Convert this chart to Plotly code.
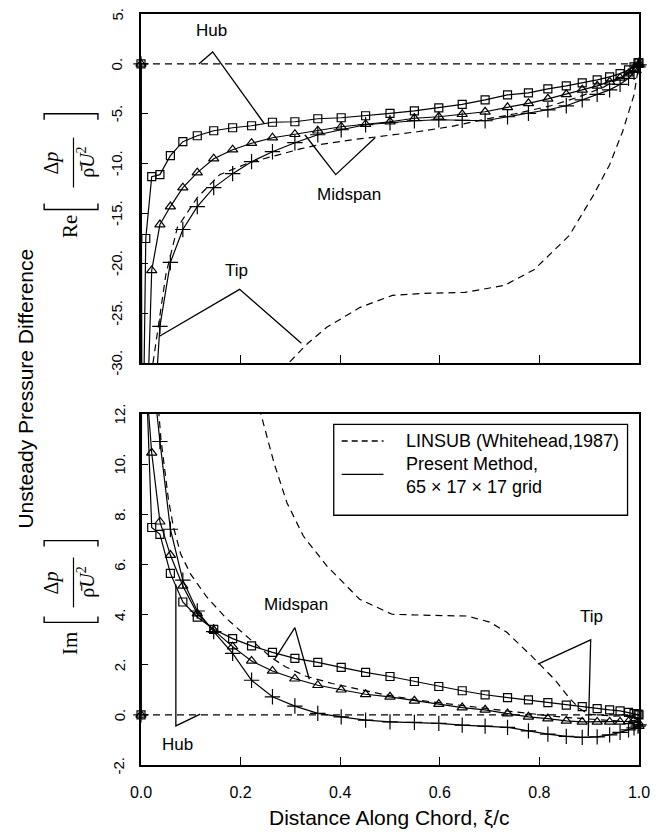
import plotly.graph_objects as go

# ---------------- data ----------------
# chordwise grid of the present method
xi = [0.0, 0.0024, 0.0096, 0.0215, 0.038, 0.059, 0.084, 0.113, 0.146, 0.184,
      0.222, 0.264, 0.309, 0.355, 0.402, 0.451, 0.500, 0.549, 0.598, 0.645,
      0.691, 0.736, 0.778, 0.817, 0.854, 0.886, 0.916, 0.941, 0.962, 0.979,
      0.990, 0.998, 1.0]

# Real part, present method
re_hub = [0, -45, -17.5, -11.3, -11.1, -9.2, -7.8, -7.2, -6.7, -6.4,
          -6.2, -5.85, -5.8, -5.5, -5.4, -5.2, -4.95, -4.7, -4.4, -4.05,
          -3.6, -3.1, -2.9, -2.5, -2.2, -1.9, -1.6, -1.3, -0.97, -0.6,
          -0.3, 0.1, 0.1]
re_mid = [0, -80, -40, -20.7, -16.1, -14.3, -12.4, -10.9, -9.5, -8.6,
          -7.95, -7.4, -7.05, -6.7, -6.3, -6.05, -5.8, -5.45, -5.3, -5.05,
          -4.8, -4.35, -3.95, -3.5, -3.05, -2.6, -2.2, -1.8, -1.4, -0.97,
          -0.53, -0.13, 0.0]
re_tip = [0, -100, -60, -39, -26.3, -19.9, -16.6, -14.3, -12.4, -11.0,
          -9.8, -8.8, -7.9, -7.1, -6.6, -6.1, -5.9, -5.7, -5.6, -5.65,
          -5.7, -5.3, -4.95, -4.6, -4.2, -3.6, -3.05, -2.6, -2.05, -1.45,
          -0.85, -0.3, -0.1]

# Imaginary part, present method
im_hub = [0, 40, 14, 7.47, 7.2, 5.64, 4.5, 3.9, 3.41, 3.04,
          2.75, 2.49, 2.25, 2.09, 1.89, 1.69, 1.53, 1.33, 1.13, 0.96,
          0.8, 0.69, 0.6, 0.49, 0.39, 0.33, 0.25, 0.2, 0.16, 0.1,
          0.05, 0.03, 0.0]
im_mid = [0, 30, 13.5, 10.45, 7.7, 6.37, 5.14, 4.04, 3.38, 2.72,
          2.15, 1.75, 1.44, 1.18, 1.0, 0.82, 0.72, 0.56, 0.43, 0.29,
          0.2, 0.05, -0.08, -0.15, -0.24, -0.28, -0.28, -0.28, -0.28, -0.26,
          -0.22, -0.3, -0.45]
im_tip = [0, 60, 30, 14, 10.9, 7.4, 5.37, 4.14, 3.32, 2.45,
          1.38, 0.72, 0.35, 0.06, -0.08, -0.21, -0.28, -0.3, -0.34, -0.41,
          -0.45, -0.5, -0.64, -0.77, -0.86, -0.9, -0.88, -0.8, -0.7, -0.6,
          -0.52, -0.45, -0.4]

# LINSUB (Whitehead, 1987) -- real part
ls_re_hub_x = [0.0, 1.0]
ls_re_hub_y = [0.0, 0.0]
ls_re_mid_x = [0.018, 0.024, 0.05, 0.073, 0.113, 0.158, 0.217, 0.276, 0.322, 0.358,
               0.424, 0.476, 0.555, 0.62, 0.686, 0.751, 0.823, 0.88, 0.93, 0.97, 1.0]
ls_re_mid_y = [-36, -30, -21.1, -16.4, -13.4, -11.1, -9.9, -9.1, -8.5, -8.1,
               -7.6, -7.3, -6.8, -6.3, -5.6, -5.0, -4.2, -3.3, -2.3, -1.2, 0.0]
ls_re_tip_x = [0.25, 0.296, 0.335, 0.373, 0.44, 0.505, 0.57, 0.65, 0.73, 0.79,
               0.86, 0.908, 0.941, 0.967, 0.99, 1.0]
ls_re_tip_y = [-34, -30, -28.0, -26.4, -24.4, -23.2, -23.0, -22.9, -22.2, -20.6,
               -17.2, -13.2, -10.1, -6.8, -3.1, 0.0]

# LINSUB -- imaginary part
ls_im_hub_x = [0.0, 1.0]
ls_im_hub_y = [0.0, 0.0]
ls_im_mid_x = [0.02, 0.04, 0.055, 0.065, 0.08, 0.1, 0.132, 0.171, 0.217, 0.264,
               0.29, 0.33, 0.384, 0.49, 0.55, 0.65, 0.75, 0.85, 0.92, 0.97, 1.0]
ls_im_mid_y = [16, 11, 8.6, 7.5, 6.4, 5.6, 4.7, 3.85, 3.05, 2.25,
               1.92, 1.55, 1.25, 0.8, 0.6, 0.35, 0.12, -0.1, -0.2, -0.25, -0.3]
ls_im_tip_x = [0.2, 0.24, 0.267, 0.293, 0.326, 0.373, 0.439, 0.504, 0.58, 0.655,
               0.70, 0.734, 0.784, 0.83, 0.862, 0.882, 0.9, 0.95, 1.0]
ls_im_tip_y = [16, 12.05, 10.05, 8.46, 7.13, 5.94, 4.61, 4.01, 3.97, 3.94,
               3.7, 3.3, 2.35, 1.42, 0.63, 0.23, 0.02, -0.05, 0.0]

# tick labels
x_ticks = [0.0, 0.2, 0.4, 0.6, 0.8, 1.0]
x_ticktext = ["0.0", "0.2", "0.4", "0.6", "0.8", "1.0"]
re_ticks = [5, 0, -5, -10, -15, -20, -25, -30]
re_ticktext = ["5.", "0.", "-5.", "-10.", "-15.", "-20.", "-25.", "-30."]
im_ticks = [12, 10, 8, 6, 4, 2, 0, -2]
im_ticktext = ["12.", "10.", "8.", "6.", "4.", "2.", "0.", "-2."]

# call-out labels: (text, label position, pointer polyline)
re_callouts = [
    ("Hub", (0.141, 3.3), [(0.116, 0.0), (0.144, 1.2), (0.247, -5.95)]),
    ("Midspan", (0.418, -13.1), [(0.329, -7.1), (0.391, -11.1), (0.47, -7.4)]),
    ("Tip", (0.191, -20.7), [(0.037, -27.3), (0.198, -22.6), (0.322, -28.0)]),
]
im_callouts = [
    ("Hub", (0.073, -1.17), [(0.07, 5.2), (0.07, -0.44), (0.119, 0.03)]),
    ("Midspan", (0.312, 4.41), [(0.268, 2.2), (0.309, 3.48), (0.338, 1.42)]),
    ("Tip", (0.905, 3.94), [(0.797, 2.02), (0.903, 2.99), (0.898, -0.84)]),
]

# ---------------- figure ----------------
FONT = "Liberation Sans, Arial, sans-serif"
SERIF = "Liberation Serif, DejaVu Serif, serif"
W, H = 662, 832
ML, MR, MT, MB = 141, 12, 12, 67
PW, PH = W - ML - MR, H - MT - MB

fig = go.Figure()

def add_present(x, y, xa, ya, symbol, size, lo, hi):
    fig.add_trace(go.Scatter(x=x, y=y, mode="lines", xaxis=xa, yaxis=ya,
                             line=dict(color="black", width=1.2),
                             showlegend=False, hoverinfo="skip"))
    px = [a for a, b in zip(x, y) if lo <= b <= hi]
    py = [b for a, b in zip(x, y) if lo <= b <= hi]
    fig.add_trace(go.Scatter(x=px, y=py, mode="markers", xaxis=xa, yaxis=ya,
                             cliponaxis=False,
                             marker=dict(symbol=symbol, size=size, color="black",
                                         line=dict(color="black", width=1.2)),
                             showlegend=False, hoverinfo="skip"))

def add_linsub(x, y, xa, ya):
    fig.add_trace(go.Scatter(x=x, y=y, mode="lines", xaxis=xa, yaxis=ya,
                             line=dict(color="black", width=1.2, dash="7px,5px"),
                             showlegend=False, hoverinfo="skip"))

# top panel (real part)
add_linsub(ls_re_hub_x, ls_re_hub_y, "x", "y")
add_linsub(ls_re_mid_x, ls_re_mid_y, "x", "y")
add_linsub(ls_re_tip_x, ls_re_tip_y, "x", "y")
add_present(xi, re_tip, "x", "y", "cross-thin-open", 11, -30, 5)
add_present(xi, re_mid, "x", "y", "triangle-up-open", 9, -30, 5)
add_present(xi, re_hub, "x", "y", "square-open", 8, -30, 5)

# bottom panel (imaginary part)
add_linsub(ls_im_hub_x, ls_im_hub_y, "x2", "y2")
add_linsub(ls_im_mid_x, ls_im_mid_y, "x2", "y2")
add_linsub(ls_im_tip_x, ls_im_tip_y, "x2", "y2")
add_present(xi, im_tip, "x2", "y2", "cross-thin-open", 11, -2, 12)
add_present(xi, im_mid, "x2", "y2", "triangle-up-open", 9, -2, 12)
add_present(xi, im_hub, "x2", "y2", "square-open", 8, -2, 12)

annotations = []
for callouts, xa, ya in ((re_callouts, "x", "y"), (im_callouts, "x2", "y2")):
    for text, (tx, ty), pts in callouts:
        fig.add_trace(go.Scatter(x=[p[0] for p in pts], y=[p[1] for p in pts],
                                 mode="lines", xaxis=xa, yaxis=ya,
                                 line=dict(color="black", width=1.3),
                                 showlegend=False, hoverinfo="skip"))
        annotations.append(dict(x=tx, y=ty, xref=xa, yref=ya, text=text,
                                showarrow=False, font=dict(family=FONT, size=17, color="black"),
                                xanchor="center", yanchor="middle"))

# legend (drawn in the bottom panel's data coordinates)
shapes = [
    dict(type="rect", xref="x2", yref="y2", x0=0.387, x1=0.977, y0=7.96, y1=11.58,
         line=dict(color="black", width=1.3), fillcolor="white", layer="above"),
    dict(type="line", xref="x2", yref="y2", x0=0.403, x1=0.487, y0=10.92, y1=10.92,
         line=dict(color="black", width=1.3, dash="6px,4px"), layer="above"),
    dict(type="line", xref="x2", yref="y2", x0=0.403, x1=0.487, y0=9.59, y1=9.59,
         line=dict(color="black", width=1.3), layer="above"),
]
for txt, yy in (("LINSUB (Whitehead,1987)", 10.92), ("Present Method,", 9.99),
                ("65 \u00d7 17 \u00d7 17 grid", 9.1)):
    annotations.append(dict(x=0.529, y=yy, xref="x2", yref="y2", text=txt, showarrow=False,
                            xanchor="left", yanchor="middle",
                            font=dict(family=FONT, size=18, color="black")))

def ppx(px):
    return (px - ML) / PW

def ppy(py):
    return (H - MB - py) / PH

# rotated y tick labels (placed on the axes' own scales)
for vals, texts, ya, xc in ((re_ticks, re_ticktext, "y", 116), (im_ticks, im_ticktext, "y2", 119)):
    for v, t in zip(vals, texts):
        annotations.append(dict(x=ppx(xc), y=v, xref="paper", yref=ya, text=t,
                                showarrow=False, textangle=-90,
                                font=dict(family=FONT, size=15, color="black"),
                                xanchor="center", yanchor="middle"))

# axis titles
annotations.append(dict(x=ppx(395), y=ppy(818), xref="paper", yref="paper",
                        text="Distance Along Chord, \u03be/c", showarrow=False,
                        font=dict(family=FONT, size=21, color="black"),
                        xanchor="center", yanchor="middle"))
annotations.append(dict(x=ppx(22), y=ppy(388), xref="paper", yref="paper",
                        text="Unsteady Pressure Difference", showarrow=False, textangle=-90,
                        font=dict(family=FONT, size=21, color="black"),
                        xanchor="center", yanchor="middle"))

# Re[ dp / rho U^2 ] and Im[ ... ] labels (rotated)
def fraction_label(prefix, cy_prefix, cy_frac, y_lo, y_hi):
    annotations.append(dict(x=ppx(69), y=ppy(cy_prefix), xref="paper", yref="paper",
                            text=prefix, showarrow=False, textangle=-90,
                            font=dict(family=SERIF, size=21, color="black"),
                            xanchor="center", yanchor="middle"))
    annotations.append(dict(x=ppx(50), y=ppy(cy_frac), xref="paper", yref="paper",
                            text="\u0394<i>p</i>", showarrow=False, textangle=-90,
                            font=dict(family=SERIF, size=20, color="black"),
                            xanchor="center", yanchor="middle"))
    annotations.append(dict(x=ppx(85), y=ppy(cy_frac), xref="paper", yref="paper",
                            text="\u03c1\u0304<i>U</i><sup>2</sup>", showarrow=False, textangle=-90,
                            font=dict(family=SERIF, size=20, color="black"),
                            xanchor="center", yanchor="middle"))
    shapes.append(dict(type="line", xref="paper", yref="paper",
                       x0=ppx(72), x1=ppx(72), y0=ppy(cy_frac + 25), y1=ppy(cy_frac - 25),
                       line=dict(color="black", width=1.2)))
    # brackets
    shapes.append(dict(type="path", xref="paper", yref="paper",
                       path=f"M {ppx(42)} {ppy(y_lo - 6)} L {ppx(42)} {ppy(y_lo)} "
                            f"L {ppx(97)} {ppy(y_lo)} L {ppx(97)} {ppy(y_lo - 6)}",
                       line=dict(color="black", width=1.4)))
    shapes.append(dict(type="path", xref="paper", yref="paper",
                       path=f"M {ppx(42)} {ppy(y_hi + 6)} L {ppx(42)} {ppy(y_hi)} "
                            f"L {ppx(97)} {ppy(y_hi)} L {ppx(97)} {ppy(y_hi + 6)}",
                       line=dict(color="black", width=1.4)))

fraction_label("Re", 225, 161, 208, 112)
fraction_label("Im", 643, 582, 622, 540)

axis_common = dict(showgrid=False, zeroline=False, showline=True, mirror=True,
                   linecolor="black", linewidth=1.5, ticks="inside", tickcolor="black",
                   tickwidth=1.3, tickfont=dict(family=FONT, size=16, color="black"))

fig.update_layout(
    width=W, height=H,
    margin=dict(l=ML, r=MR, t=MT, b=MB),
    paper_bgcolor="white", plot_bgcolor="white",
    showlegend=False,
    xaxis=dict(domain=[0, 1], range=[0, 1], anchor="y", tickvals=x_ticks[1:-1],
               showticklabels=False, ticklen=8, **axis_common),
    yaxis=dict(domain=[0.535, 1], range=[-30, 5], anchor="x", tickvals=re_ticks,
               showticklabels=False, ticklen=7, **axis_common),
    xaxis2=dict(domain=[0, 1], range=[0, 1], anchor="y2", tickvals=x_ticks,
                ticktext=x_ticktext, ticklen=8, ticklabelstandoff=12, **axis_common),
    yaxis2=dict(domain=[0, 0.4675], range=[-2, 12], anchor="x2", tickvals=im_ticks,
                showticklabels=False, ticklen=7, **axis_common),
    annotations=annotations,
    shapes=shapes,
)

fig.write_html("out.html")
